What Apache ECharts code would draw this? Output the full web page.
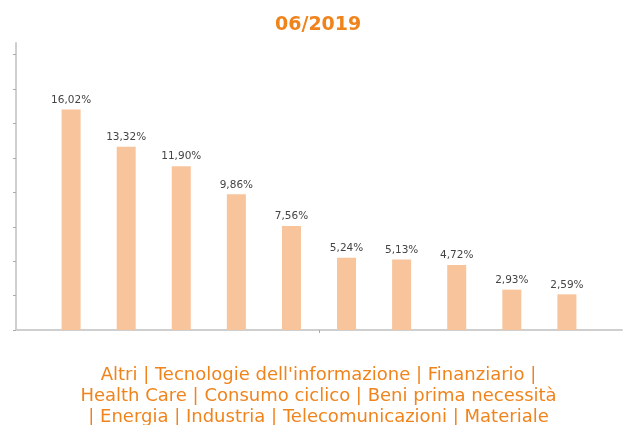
<!DOCTYPE html>
<html>
<head>
<meta charset="utf-8">
<script src="https://cdn.jsdelivr.net/npm/echarts@6/dist/echarts.min.js"></script>
<style>html,body{margin:0;padding:0;background:#fff}#c{width:624px;height:425px}</style>
</head>
<body>
<div id="c"></div>
<script>
var title = '06/2019';
var categories = ['Altri', "Tecnologie dell'informazione", 'Finanziario', 'Health Care', 'Consumo ciclico', 'Beni prima necessità', 'Energia', 'Industria', 'Telecomunicazioni', 'Materiale'];
var values = [16.02, 13.32, 11.90, 9.86, 7.56, 5.24, 5.13, 4.72, 2.93, 2.59];
var yTicks = [0, 2.5, 5, 7.5, 10, 12.5, 15, 17.5, 20];

var axisCats = [''].concat(categories).concat(['']);
var seriesData = ['-'].concat(values).concat(['-']);
var legendLines = [
  categories.slice(0, 3).join(' | ') + ' |',
  categories.slice(3, 6).join(' | '),
  '| ' + categories.slice(6).join(' | ')
];

var graphics = legendLines.map(function (line, i) {
  return {
    type: 'text', x: 318.5, y: 366.5 + i * 21,
    style: {text: line, fill: '#F0841C', font: '18px "DejaVu Sans"', align: 'center', verticalAlign: 'top'}
  };
});

var chart = echarts.init(document.getElementById('c'), null, {renderer: 'canvas'});
chart.setOption({
  animation: false,
  textStyle: {fontFamily: 'DejaVu Sans'},
  title: {text: title, left: 270, top: 11, textStyle: {color: '#F0841C', fontSize: 19, fontWeight: 'bold', fontFamily: 'DejaVu Sans'}},
  graphic: graphics,
  grid: {left: 16, right: 2, top: 43, bottom: 95, containLabel: false},
  xAxis: [{
    type: 'category', data: axisCats, boundaryGap: false,
    axisLine: {lineStyle: {color: '#cfcfcf', width: 2}},
    axisTick: {show: false}, axisLabel: {show: false}, splitLine: {show: false}
  }, {
    type: 'value', min: 0, max: 1, position: 'bottom',
    axisLine: {show: false}, axisLabel: {show: false}, splitLine: {show: false},
    axisTick: {show: true, inside: false, length: 3, customValues: [0.5], lineStyle: {color: '#aaa'}}
  }],
  yAxis: {
    type: 'value', min: 0, max: 20.85, offset: 3,
    axisLine: {show: true, lineStyle: {color: '#cfcfcf', width: 2}},
    axisTick: {show: true, length: 3, customValues: yTicks, lineStyle: {color: '#aaa'}},
    axisLabel: {show: false}, splitLine: {show: false}
  },
  series: [{
    type: 'bar', data: seriesData, barWidth: 19, xAxisIndex: 0,
    itemStyle: {color: '#F7C49B'},
    label: {show: true, position: 'top', distance: 4, color: '#444', fontSize: 10.5, fontFamily: 'DejaVu Sans',
      formatter: function (p) { return p.value.toFixed(2).replace('.', ',') + '%'; }}
  }]
});
</script>
</body>
</html>
